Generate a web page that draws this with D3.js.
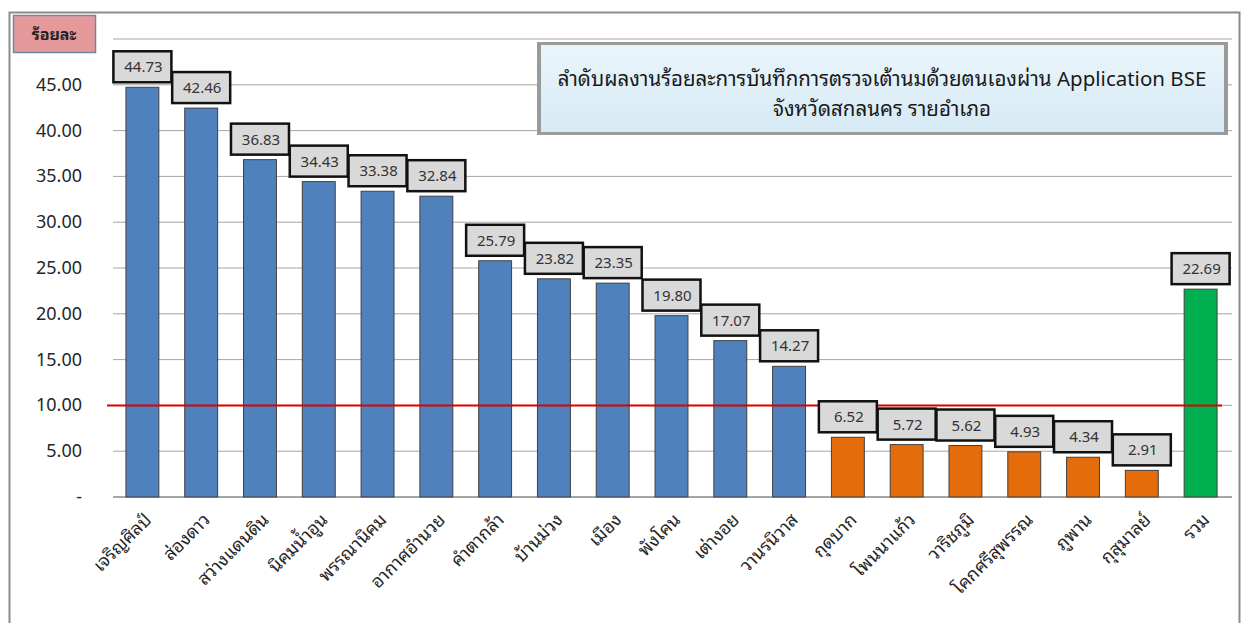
<!DOCTYPE html>
<html>
<head>
<meta charset="utf-8">
<script src="https://cdn.jsdelivr.net/npm/d3@7"></script>
<style>
  body { margin: 0; background: #fff; }
  svg text { font-family: "Noto Sans Thai Looped", "Noto Sans Thai", Tahoma, "Noto Sans", "DejaVu Sans", sans-serif; }
</style>
</head>
<body>
<svg id="chart" width="1245" height="623"></svg>
<script>
// districts, ordered as in the chart
const districts = ["เจริญศิลป์", "ส่องดาว", "สว่างแดนดิน", "นิคมน้ำอูน", "พรรณานิคม", "อากาศอำนวย",
  "คำตากล้า", "บ้านม่วง", "เมือง", "พังโคน", "เต่างอย", "วานรนิวาส",
  "กุดบาก", "โพนนาแก้ว", "วาริชภูมิ", "โคกศรีสุพรรณ", "ภูพาน", "กุสุมาลย์", "รวม"];
const percent = [44.73, 42.46, 36.83, 34.43, 33.38, 32.84, 25.79, 23.82, 23.35, 19.80, 17.07, 14.27,
  6.52, 5.72, 5.62, 4.93, 4.34, 2.91, 22.69];
const yTicks = [0, 5, 10, 15, 20, 25, 30, 35, 40, 45, 50];
const target = 10;
const titleLines = ["ลำดับผลงานร้อยละการบันทึกการตรวจเต้านมด้วยตนเองผ่าน  Application BSE", "จังหวัดสกลนคร  รายอำเภอ"];

const svg = d3.select("#chart");
const x = d3.scaleBand().domain(districts).range([113, 1230]).paddingInner(0.44).paddingOuter(0.22);
const y = d3.scaleLinear().domain([0, 50]).range([497, 39]);

// outer frame
svg.append("rect").attr("x", 9.5).attr("y", 12.5).attr("width", 1230).attr("height", 620)
  .attr("fill", "none").attr("stroke", "#8c8c8c").attr("stroke-width", 2);

// gridlines
svg.append("g").selectAll("line").data(yTicks.slice(1)).enter().append("line")
  .attr("x1", 113).attr("x2", 1232)
  .attr("y1", d => y(d)).attr("y2", d => y(d))
  .attr("stroke", "#a6a6a6").attr("stroke-width", 1);
svg.append("line").attr("x1", 113).attr("x2", 1232).attr("y1", y(0)).attr("y2", y(0))
  .attr("stroke", "#a6a6a6").attr("stroke-width", 2);

// y tick labels
svg.append("g").selectAll("text").data(yTicks.slice(0, 10)).enter().append("text")
  .attr("x", 82).attr("y", d => y(d) + 6)
  .attr("text-anchor", "end")
  .style("font-size", "18px").attr("fill", "#262626")
  .text(d => d === 0 ? "-" : d.toFixed(2));

// bars
const color = (d, i) => i === districts.length - 1 ? "#00b050" : (d < target ? "#e46c0a" : "#4f81bd");
svg.append("g").selectAll("rect").data(percent).enter().append("rect")
  .attr("x", (d, i) => x(districts[i]))
  .attr("y", d => y(d))
  .attr("width", x.bandwidth())
  .attr("height", d => y(0) - y(d))
  .attr("fill", color)
  .attr("stroke", "#404040").attr("stroke-width", 1);

// target line
svg.append("line").attr("x1", 107).attr("x2", 1222).attr("y1", y(target)).attr("y2", y(target))
  .attr("stroke", "#e00000").attr("stroke-width", 2);

// value label boxes
const lab = svg.append("g").selectAll("g").data(percent).enter().append("g")
  .attr("transform", (d, i) => `translate(${x(districts[i]) + x.bandwidth() / 2},${y(d) - 5})`);
lab.append("rect").attr("x", -29).attr("y", -31).attr("width", 58).attr("height", 31)
  .attr("fill", "#d9d9d9").attr("stroke", "#111").attr("stroke-width", 2.5);
lab.append("text").attr("x", 1).attr("y", -10).attr("text-anchor", "middle")
  .style("font-size", "15px").attr("fill", "#333")
  .text(d => d.toFixed(2));

// x labels
svg.append("g").selectAll("text").data(districts).enter().append("text")
  .attr("transform", d => `translate(${x(d) + x.bandwidth() / 2 + 10},${521}) rotate(-45)`)
  .attr("text-anchor", "end")
  .style("font-size", "18px").attr("fill", "#262626")
  .text(d => d);

// unit box
svg.append("rect").attr("x", 13.5).attr("y", 15.5).attr("width", 82).attr("height", 37)
  .attr("fill", "#e6999a").attr("stroke", "#6f86a8").attr("stroke-width", 1.5);
svg.append("text").attr("x", 54).attr("y", 40).attr("text-anchor", "middle")
  .style("font-size", "16px").style("font-weight", "bold").attr("fill", "#222")
  .text("ร้อยละ");

// title box
const defs = svg.append("defs");
const grad = defs.append("linearGradient").attr("id", "tg").attr("x1", 0).attr("y1", 0).attr("x2", 0).attr("y2", 1);
grad.append("stop").attr("offset", "0%").attr("stop-color", "#eaf5fb");
grad.append("stop").attr("offset", "100%").attr("stop-color", "#d6eaf5");
svg.append("rect").attr("x", 537).attr("y", 42).attr("width", 691).attr("height", 93)
  .attr("fill", "#9a9a9a");
svg.append("rect").attr("x", 541).attr("y", 45).attr("width", 683).attr("height", 87)
  .attr("fill", "url(#tg)");
svg.append("g").selectAll("text").data(titleLines).enter().append("text")
  .attr("x", 882).attr("y", (d, i) => 86 + i * 30)
  .attr("text-anchor", "middle")
  .style("font-size", "20.5px").attr("fill", "#1a1a1a")
  .text(d => d);
</script>
</body>
</html>
